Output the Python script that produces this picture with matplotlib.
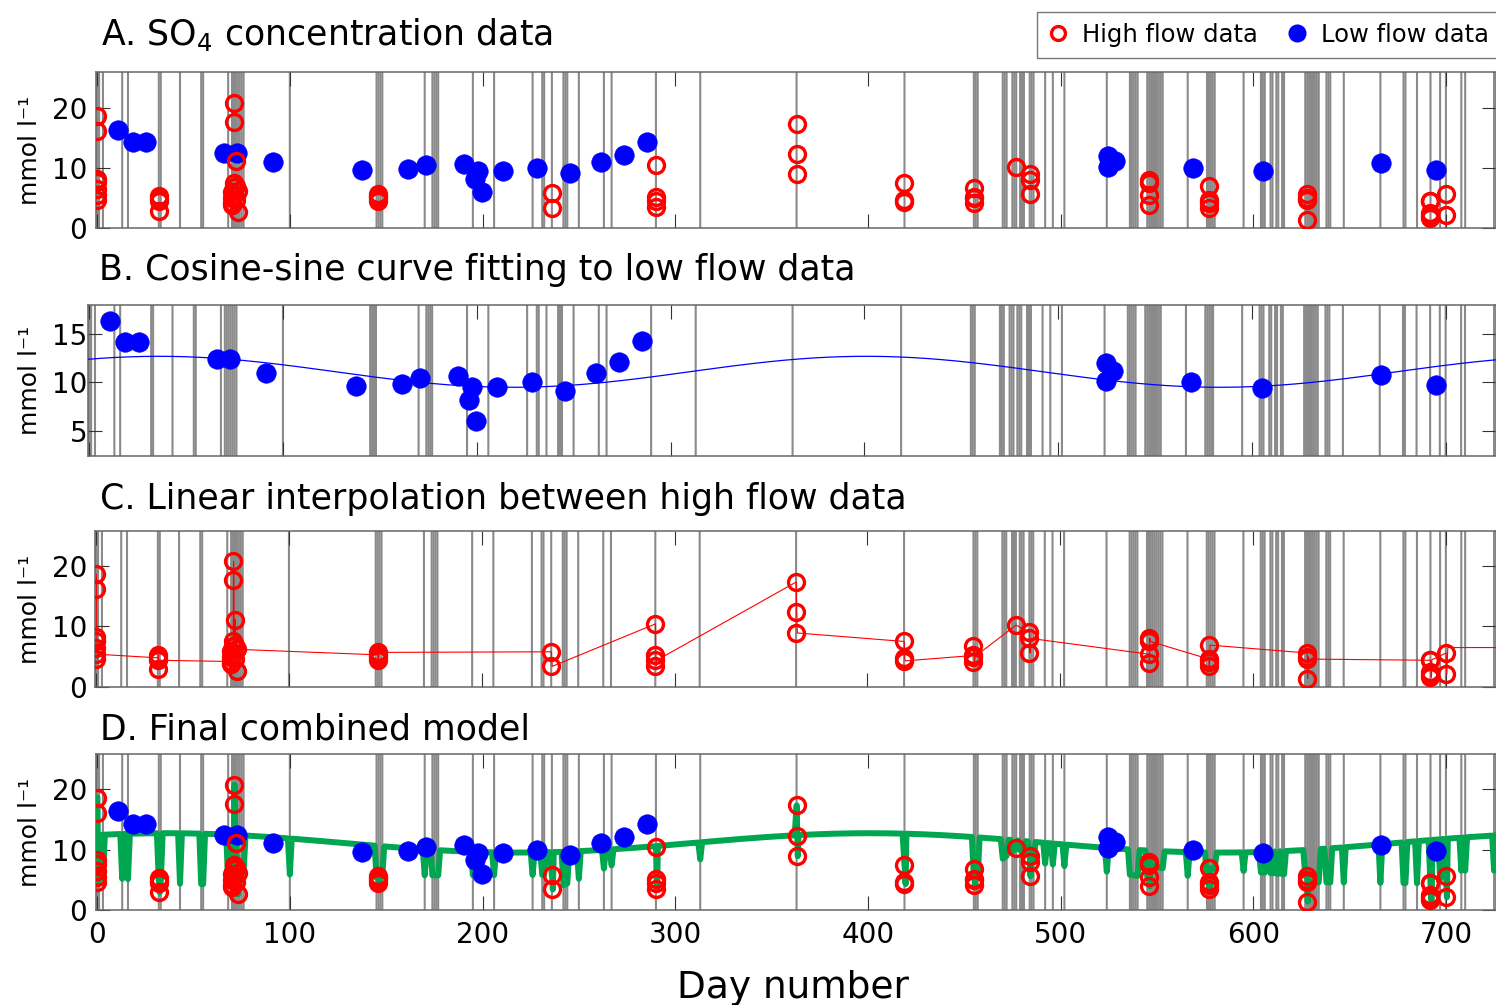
import numpy as np
import matplotlib
matplotlib.use("Agg")
import matplotlib.pyplot as plt
from matplotlib.lines import Line2D

# ---------------- data ----------------
# days flagged as high-flow days (grey vertical lines)
high_flow_days = [0, 1, 3, 13, 16, 32, 33, 43, 54, 55, 68, 70, 71, 72, 73, 74, 75, 76,
                  100, 145, 146, 147, 148, 170, 174, 175, 176, 177, 195, 206, 226, 231,
                  232, 236, 242, 243, 244, 250, 263, 267, 290, 313, 363, 419, 455, 456,
                  457, 470, 471, 472, 475, 476, 477, 479, 480, 481, 484, 485, 486, 492,
                  496, 502, 524, 536, 537, 538, 539, 540, 545, 546, 547, 548, 549, 550,
                  551, 552, 553, 566, 576, 577, 578, 579, 580, 595, 604, 605, 606, 609,
                  610, 612, 613, 615, 616, 627, 628, 629, 630, 631, 632, 633, 634, 638,
                  639, 640, 647, 666, 678, 679, 685, 692, 697, 700, 708, 710, 725]

# high flow samples (day of event, concentration), listed in sampling order
high_day = [0, 0, 0, 0, 0, 0, 0,
            32, 32, 32, 32,
            70, 70, 70, 70, 71, 71, 71, 71, 71, 72, 72, 72, 73, 73,
            146, 146, 146, 146,
            236, 236,
            290, 290, 290, 290,
            363, 363, 363,
            419, 419, 419,
            455, 455, 455, 455,
            477,
            484, 484, 484,
            546, 546, 546, 546,
            577, 577, 577, 577,
            628, 628, 628, 628,
            692, 692, 692, 692, 692,
            700, 700]
high_val = [18.6, 16.1, 8.2, 7.6, 6.4, 4.6, 5.4,
            4.8, 5.3, 2.9, 4.4,
            4.2, 3.8, 5.0, 6.0, 7.5, 20.7, 17.6, 6.8, 5.5, 11.1, 7.0, 4.6, 2.6, 6.2,
            5.3, 4.4, 4.9, 5.7,
            5.8, 3.4,
            10.4, 5.2, 3.5, 4.4,
            17.3, 12.3, 8.9,
            7.5, 4.7, 4.3,
            5.2, 6.7, 4.1, 5.0,
            10.2,
            9.0, 5.6, 8.0,
            5.4, 3.9, 8.0, 7.5,
            4.6, 3.4, 4.2, 6.9,
            5.6, 1.4, 5.0, 4.6,
            4.4, 2.5, 1.6, 2.0, 4.5,
            5.6, 2.1]

# low flow samples
low_day = [11, 18.5, 25.5, 66, 72.5, 91.5, 137.5, 161.5, 170.5, 190.5, 196, 197.5,
           199.5, 210.5, 228.5, 245.5, 261.5, 273.5, 285.5, 524.5, 528.5, 524.5,
           568.5, 605, 666.5, 695]
low_val = [16.3, 14.2, 14.2, 12.4, 12.4, 11.0, 9.6, 9.8, 10.5, 10.7, 8.2, 9.5,
           6.0, 9.5, 10.0, 9.1, 11.0, 12.1, 14.3, 12.0, 11.2, 10.2,
           10.0, 9.4, 10.8, 9.7]

# fitted cosine-sine curve (parameters)
curve_mean = 11.1
curve_amp = 1.6
curve_peak_day = 36.0
curve_period = 365.0

# value carried after the last high flow sample (panel C)
tail_day = 701.0
tail_val = 6.5

panel_titles = [r"A. SO$_4$ concentration data",
                "B. Cosine-sine curve fitting to low flow data",
                "C. Linear interpolation between high flow data",
                "D. Final combined model"]
xticks = [0, 100, 200, 300, 400, 500, 600, 700]

# ---------------- derived series ----------------
hd = np.array(high_day, dtype=float)
hv = np.array(high_val, dtype=float)
t_high = hd.copy()
for d in np.unique(hd):
    idx = np.where(hd == d)[0]
    t_high[idx] = d + 0.1 + 0.8 * np.arange(len(idx)) / len(idx)

line_t = np.concatenate([t_high, [tail_day, 730.0]])
line_v = np.concatenate([hv, [tail_val, tail_val]])


def seasonal(t):
    return curve_mean + curve_amp * np.cos(2 * np.pi * (np.asarray(t) - curve_peak_day) / curve_period)


hf_days = np.union1d(high_flow_days, np.unique(hd))
t_model = np.union1d(np.arange(0, 727), t_high)
is_hf = np.isin(np.floor(t_model), hf_days)
model = np.where(is_hf, np.interp(t_model, line_t, line_v), seasonal(t_model))
t_curve = np.linspace(-1, 727, 900)

# ---------------- figure ----------------
W, H = 1496, 1005
fig = plt.figure(figsize=(W / 100, H / 100), dpi=100)

RED = "#ff0000"
BLUE = "#0000ff"
GREEN = "#00a650"
GREY = "#8a8a8a"
XLIM = (-0.6, 726)
TICK_FS = 20


def px_axes(left, top, bottom, right=1496):
    return fig.add_axes([left / W, 1 - bottom / H, (right - left) / W, (bottom - top) / H])


axes_px = [(96, 72, 228), (88, 305, 456), (95, 531, 687), (96, 754, 910)]
ylims = [(0, 25.9), (2.4, 18.0), (0, 25.7), (0, 25.8)]
yticks = [[0, 10, 20], [5, 10, 15], [0, 10, 20], [0, 10, 20]]
title_xy = [(101, 45), (99, 280), (100, 509), (100, 739)]

axs = []
for i, (l, t, b) in enumerate(axes_px):
    ax = px_axes(l, t, b)
    ax.set_xlim(*XLIM)
    ax.set_ylim(*ylims[i])
    ax.set_yticks(yticks[i])
    ax.set_xticks(xticks)
    pad_y = max((l - 87) / 1.389, 0.5)
    ax.tick_params(axis="both", direction="in", length=10, width=0.8, color="#333333",
                   top=True, right=True, labelsize=TICK_FS)
    ax.tick_params(axis="y", pad=pad_y)
    ax.tick_params(axis="x", pad=8)
    if i < 3:
        ax.tick_params(axis="x", labelbottom=False)
    for s in ax.spines.values():
        s.set_color("#666666")
        s.set_linewidth(1.1)
    vl = ax.vlines(high_flow_days, 0, 1, transform=ax.get_xaxis_transform(),
                   colors=GREY, linewidth=1.5, zorder=1)
    vl.set_snap(False)
    fig.text(title_xy[i][0] / W, 1 - title_xy[i][1] / H, panel_titles[i],
             fontsize=25, ha="left", va="baseline")
    fig.text(30 / W, 1 - ((t + b) / 2) / H, "mmol l\u207b\u00b9", rotation=90,
             fontsize=18, ha="center", va="center")
    axs.append(ax)

axA, axB, axC, axD = axs

# marker styles
red_kw = dict(linestyle="none", marker="o", ms=11.5, mfc="none", mec=RED, mew=2.4, zorder=5)
blue_kw = dict(linestyle="none", marker="o", ms=14, mfc=BLUE, mec=BLUE, mew=0.5, zorder=4)

# A
axA.plot(low_day, low_val, **blue_kw)
axA.plot(high_day, high_val, **red_kw)

# B
axB.plot(t_curve, seasonal(t_curve), color=BLUE, linewidth=0.9, zorder=3)
axB.plot(low_day, low_val, **blue_kw)

# C
axC.plot(line_t, line_v, color=RED, linewidth=0.8, zorder=3)
axC.plot(high_day, high_val, **red_kw)

# D
axD.plot(t_model, model, color=GREEN, linewidth=4.3, zorder=3)
axD.plot(low_day, low_val, **blue_kw)
axD.plot(high_day, high_val, **red_kw)
axD.set_xticklabels([str(v) for v in xticks])

fig.text(793 / W, 1 - 998 / H, "Day number", fontsize=27, ha="center", va="baseline")

handles = [Line2D([], [], linestyle="none", marker="o", ms=10, mfc="none", mec=RED, mew=2.4),
           Line2D([], [], linestyle="none", marker="o", ms=12, mfc=BLUE, mec=BLUE)]
leg = fig.legend(handles, ["High flow data", "Low flow data"], loc="upper right",
                 bbox_to_anchor=(1500 / W, 1 - 12 / H), ncol=2, fontsize=17.5,
                 frameon=True, fancybox=False, borderpad=0.45, handlelength=0.8,
                 handletextpad=0.6, columnspacing=1.2, borderaxespad=0)
leg.get_frame().set_edgecolor("#555555")
leg.get_frame().set_linewidth(1.0)

fig.savefig("out.png", dpi=100)
